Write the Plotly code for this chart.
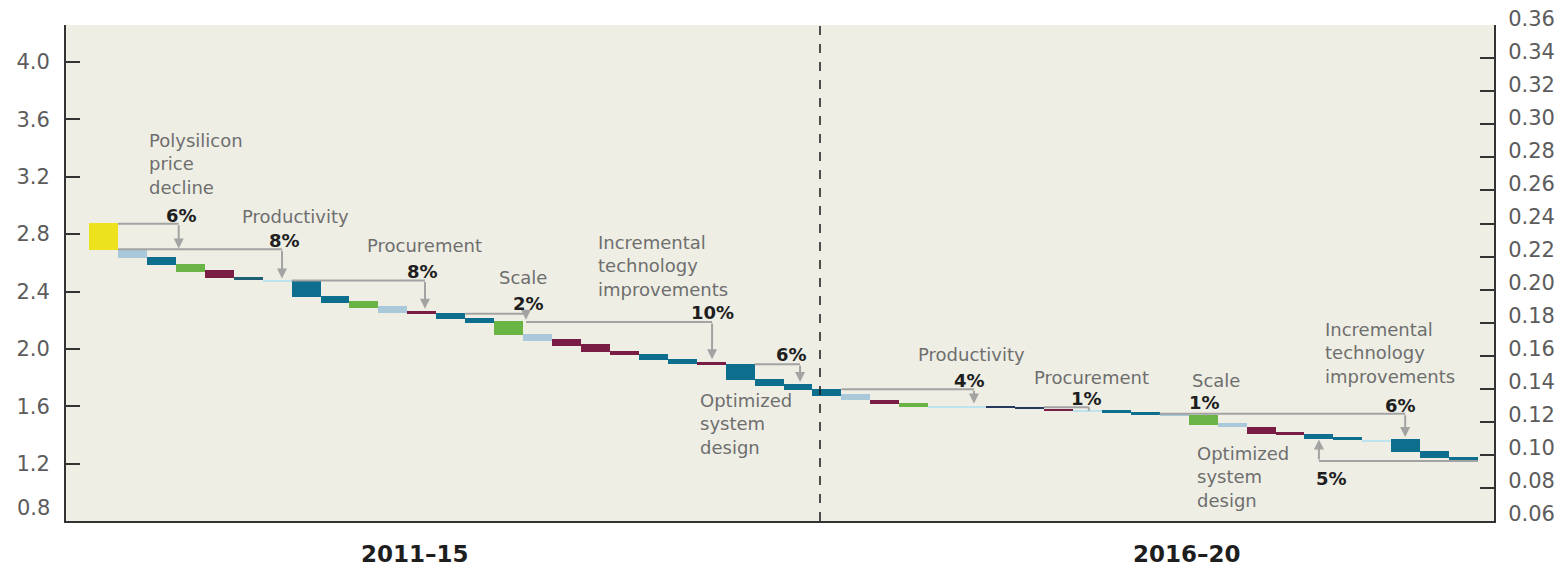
import plotly.graph_objects as go

# ---- data -------------------------------------------------------------
# 48 waterfall steps, cost per watt (left axis), each step drawn from its
# upper level down to its lower level
bar_top = [2.875, 2.690, 2.639, 2.593, 2.551, 2.502, 2.481, 2.479, 2.367, 2.331,
           2.296, 2.263, 2.252, 2.217, 2.193, 2.101, 2.070, 2.036, 1.987, 1.967,
           1.932, 1.908, 1.897, 1.793, 1.753, 1.723, 1.683, 1.647, 1.623, 1.603,
           1.601, 1.605, 1.595, 1.584, 1.574, 1.572, 1.560, 1.551, 1.537, 1.480,
           1.456, 1.421, 1.410, 1.386, 1.367, 1.375, 1.289, 1.247]
bar_bottom = [2.690, 2.632, 2.586, 2.534, 2.493, 2.481, 2.463, 2.365, 2.321, 2.287,
              2.252, 2.240, 2.205, 2.182, 2.094, 2.054, 2.021, 1.978, 1.958, 1.923,
              1.897, 1.887, 1.784, 1.739, 1.716, 1.673, 1.642, 1.619, 1.595, 1.593,
              1.591, 1.590, 1.579, 1.565, 1.560, 1.556, 1.542, 1.530, 1.468, 1.452,
              1.410, 1.398, 1.375, 1.363, 1.357, 1.282, 1.236, 1.224]
# component code of each step
bar_kind = ["Y", "S", "T", "G", "M", "D", "C", "T", "T", "G",
            "S", "M", "T", "T", "G", "S", "M", "M", "M", "T",
            "T", "M", "T", "T", "T", "T", "S", "M", "G", "C",
            "C", "N", "N", "M", "C", "T", "T", "S", "G", "S",
            "M", "M", "T", "T", "C", "T", "T", "T"]
steps = list(range(1, len(bar_top) + 1))

left_ticks = [0.8, 1.2, 1.6, 2.0, 2.4, 2.8, 3.2, 3.6, 4.0]
right_ticks = [0.06, 0.08, 0.10, 0.12, 0.14, 0.16, 0.18, 0.20, 0.22, 0.24,
               0.26, 0.28, 0.30, 0.32, 0.34, 0.36]
periods = ["2011–15", "2016–20"]

# ---- styling ----------------------------------------------------------
palette = {
    "Y": "#ECE21E", "S": "#A9C8DA", "T": "#0D6E8E", "G": "#6AB446",
    "M": "#7A1D45", "D": "#1E5F72", "C": "#BEE2EE", "N": "#27395C",
}
LABEL = dict(family="DejaVu Sans", size=18, color="#6e6e6e")
PCT = dict(family="DejaVu Sans", size=18, color="#1e1e1e")
TICKFONT = dict(family="DejaVu Sans", size=21, color="#5c5c5c")
BRACKET = "#a3a3a3"
X_RANGE = [-0.295, 49.05]
Y_RANGE = [0.8, 4.258]

fig = go.Figure()
fig.add_trace(go.Bar(
    x=steps,
    y=[t - b for t, b in zip(bar_top, bar_bottom)],
    base=bar_bottom,
    width=1.0,
    marker=dict(color=[palette[k] for k in bar_kind], line=dict(width=0)),
    hoverinfo="skip",
    showlegend=False,
))
# empty trace that carries the right-hand axis
fig.add_trace(go.Scatter(x=[], y=[], yaxis="y2", showlegend=False, hoverinfo="skip"))

# ---- brackets: horizontal runs and arrow drops --------------------------
runs = [  # (x0, x1, y)
    (1.5, 3.6, 2.872), (1.5, 7.17, 2.694), (7.5, 12.11, 2.477),
    (13.5, 15.6, 2.245), (15.6, 22.03, 2.188), (23.5, 25.07, 1.892),
    (26.5, 31.08, 1.718), (33.5, 35.05, 1.593), (37.5, 45.98, 1.548),
    (43.0, 48.5, 1.219),
]
for x0, x1, yv in runs:
    fig.add_shape(type="line", xref="x", yref="y", x0=x0, x1=x1, y0=yv, y1=yv,
                  line=dict(color=BRACKET, width=2), layer="above")

drops = [  # (x, from_y, to_y)
    (3.6, 2.872, 2.700), (7.17, 2.694, 2.490), (12.11, 2.477, 2.280),
    (15.6, 2.245, 2.203), (22.03, 2.188, 1.927), (25.07, 1.892, 1.769),
    (31.08, 1.718, 1.619), (45.98, 1.548, 1.386), (43.0, 1.219, 1.368),
]
for xv, y_from, y_to in drops:
    fig.add_annotation(x=xv, y=y_to, ax=xv, ay=y_from, xref="x", yref="y",
                       axref="x", ayref="y", text="", showarrow=True,
                       arrowhead=2, arrowsize=1, arrowwidth=2,
                       arrowcolor=BRACKET, standoff=0)
for xv, y_from, y_to in [(35.05, 1.593, 1.569), (39.1, 1.548, 1.534)]:
    fig.add_shape(type="line", xref="x", yref="y", x0=xv, x1=xv, y0=y_from, y1=y_to,
                  line=dict(color=BRACKET, width=2), layer="above")

# ---- driver labels ------------------------------------------------------
labels = [
    ("Polysilicon<br>price<br>decline", 2.50, 3.290),
    ("Productivity", 5.72, 2.922),
    ("Procurement", 10.04, 2.720),
    ("Scale", 14.60, 2.497),
    ("Incremental<br>technology<br>improvements", 18.02, 2.581),
    ("Optimized<br>system<br>design", 21.54, 1.475),
    ("Productivity", 29.08, 1.962),
    ("Procurement", 33.08, 1.802),
    ("Scale", 38.54, 1.781),
    ("Incremental<br>technology<br>improvements", 43.14, 1.969),
    ("Optimized<br>system<br>design", 38.72, 1.106),
]
for txt, xv, yv in labels:
    fig.add_annotation(x=xv, y=yv, xref="x", yref="y", text=txt, showarrow=False,
                       xanchor="left", yanchor="middle", align="left", font=LABEL)

shares = [
    ("6%", 3.68, 2.929), ("8%", 7.24, 2.755), ("8%", 12.01, 2.539),
    ("2%", 15.70, 2.317), ("10%", 22.06, 2.254), ("6%", 24.79, 1.962),
    ("4%", 30.91, 1.781), ("1%", 34.98, 1.656), ("1%", 39.03, 1.628),
    ("6%", 45.83, 1.607), ("5%", 43.42, 1.099),
]
for txt, xv, yv in shares:
    fig.add_annotation(x=xv, y=yv, xref="x", yref="y", text="<b>%s</b>" % txt,
                       showarrow=False, xanchor="center", yanchor="middle", font=PCT)

# period captions under the axis
for txt, xv in zip(periods, [11.75, 38.45]):
    fig.add_annotation(x=xv, y=-0.066, xref="x", yref="paper", text="<b>%s</b>" % txt,
                       showarrow=False, xanchor="center", yanchor="middle",
                       font=dict(family="DejaVu Sans", size=23, color="#1e1e1e"))

# lowest left label sits just above the corner
fig.add_annotation(x=-0.0095, y=0.027, xref="paper", yref="paper", text="0.8",
                   showarrow=False, xanchor="right", yanchor="middle", font=TICKFONT)

# divider between the two periods
fig.add_shape(type="line", xref="x", yref="paper", x0=25.76, x1=25.76, y0=0, y1=1,
              line=dict(color="#1a1a1a", width=1.5, dash="dash"), layer="above")

left_vals = left_ticks + [Y_RANGE[1] - 0.001]
left_text = [""] + ["%.1f" % v for v in left_ticks[1:]] + [""]

fig.update_layout(
    width=1563, height=568,
    margin=dict(l=66, r=69, t=25, b=47, autoexpand=False),
    paper_bgcolor="white", plot_bgcolor="#EEEEE5",
    bargap=0, showlegend=False,
    xaxis=dict(range=X_RANGE, showticklabels=False, ticks="", showgrid=False,
               zeroline=False, showline=True, linecolor="#333333", linewidth=2,
               fixedrange=True, automargin=False),
    yaxis=dict(range=Y_RANGE, tickvals=left_vals, ticktext=left_text,
               ticks="inside", ticklen=14, tickwidth=2, tickcolor="#333333",
               showgrid=False, zeroline=False, showline=True, linecolor="#333333",
               linewidth=2, ticklabelstandoff=10, tickfont=TICKFONT,
               automargin=False),
    yaxis2=dict(range=[0.06, 0.3601], overlaying="y", side="right", anchor="x",
                tickvals=right_ticks, ticktext=["%.2f" % v for v in right_ticks],
                ticks="inside", ticklen=14, tickwidth=2, tickcolor="#333333",
                showgrid=False, zeroline=False, showline=True, linecolor="#333333",
                linewidth=2, ticklabelstandoff=8, ticklabelshift=-7,
                tickfont=TICKFONT, automargin=False),
)

fig.write_html("out.html")
